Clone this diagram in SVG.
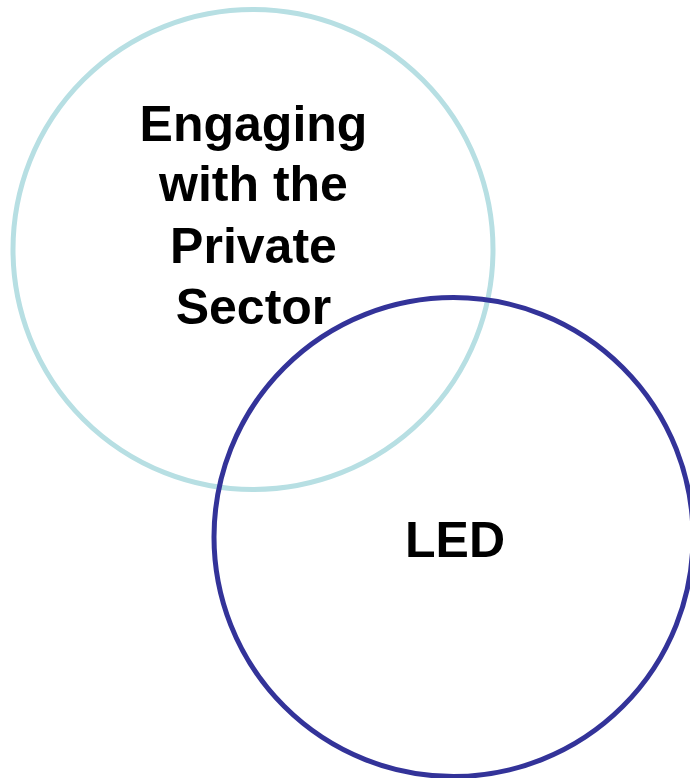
<svg xmlns="http://www.w3.org/2000/svg" width="690" height="778" viewBox="0 0 690 778">
<style>
.c{fill:none;stroke-width:5}
.t{font-family:"Liberation Sans",Arial,sans-serif;font-weight:bold;font-size:50px;fill:#000;text-anchor:middle}
</style>
<rect width="690" height="778" fill="#fff"/>
<g id="private-sector">
<circle class="c" cx="253" cy="249.5" r="240" stroke="#b7dfe3"/>
<text class="t" x="253.5" y="141">Engaging</text>
<text class="t" x="253.5" y="201">with the</text>
<text class="t" x="253.5" y="262.5">Private</text>
<text class="t" x="253.5" y="324">Sector</text>
</g>
<g id="led">
<circle class="c" cx="453.5" cy="537" r="239.5" stroke="#333399"/>
<text class="t" x="455" y="557">LED</text>
</g>
<g id="connectors"/>
</svg>
